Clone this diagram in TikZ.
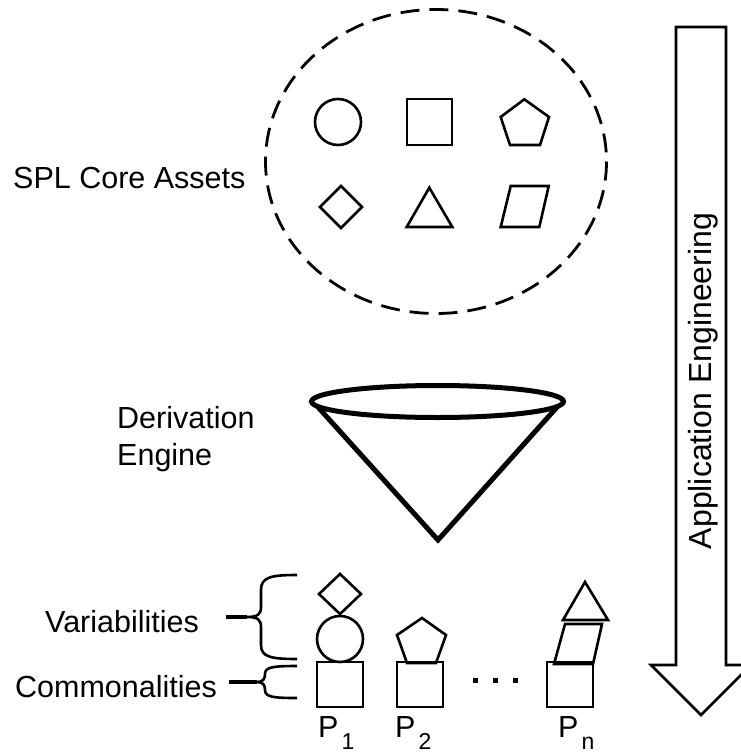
\documentclass[tikz,border=0pt]{standalone}
\usepackage{fontspec}
\setmainfont{Liberation Sans}
\usepackage{tikz}

\newcommand{\prodlabel}[1]{P\hspace{3pt}\raisebox{-12pt}{\fontsize{23}{23}\selectfont #1}}

\begin{document}
\begin{tikzpicture}[x=1pt, y=-1pt,
	lbl/.style={font=\fontsize{30.5}{37}\selectfont, inner sep=0pt},
	shp/.style={line width=2.6pt, line join=miter},
	conn/.style={line width=3.2pt}]
	%\draw[help lines, step=50] (0,0) grid (740,754);
	\useasboundingbox (0,0) rectangle (740,754);
	% core assets
	\draw[line width=2.8pt, dash pattern=on 19pt off 10pt] (436,161.5) ellipse [x radius=170.5, y radius=152];
	\node[lbl, anchor=base west] (spl) at (13,188) {SPL Core Assets};
	\draw[shp] (338,122) circle [radius=23];
	\draw[shp] (407,99) rectangle (452,145);
	\draw[shp] (524.3,99.3) -- (549,117) -- (540,145) -- (510,145) -- (500.7,117) -- cycle;
	\draw[shp] (341,186) -- (362,207) -- (341,228) -- (320,207) -- cycle;
	\draw[shp] (429.3,187.7) -- (452.3,227) -- (406.7,227) -- cycle;
	\draw[shp] (510.7,186) -- (548.7,186) -- (539.3,227) -- (500.7,227) -- cycle;
	% derivation engine
	\node[lbl, anchor=base west, align=left] (deriv) at (117,465) {Derivation\\Engine};
	\draw[line width=5pt] (437.5,401.5) ellipse [x radius=126, y radius=16];
	\draw[line width=5pt, line join=miter] (317,406) -- (438,540) -- (558,406);
	% products
	\draw[shp] (317,662) rectangle (363,707);
	\draw[shp] (340,639) circle [radius=23];
	\draw[shp] (340,574) -- (361,594) -- (340,614) -- (319,594) -- cycle;
	\draw[shp] (397,662) rectangle (443,707);
	\draw[shp] (422,618) -- (446,635) -- (436,663) -- (407,663) -- (397,635) -- cycle;
	\draw[shp] (547,662) rectangle (593,707);
	\draw[shp] (554,664) -- (593,664) -- (602,624) -- (565,624) -- cycle;
	\draw[shp] (585,582) -- (608,620) -- (563,620) -- cycle;
	\foreach \x in {475,495,515}
		\fill (\x-2.5,677.5) rectangle (\x+2.5,682.5);
	\node[lbl, anchor=base west] (p1) at (318,737) {\prodlabel{1}};
	\node[lbl, anchor=base west] (p2) at (395,737) {\prodlabel{2}};
	\node[lbl, anchor=base west] (pn) at (558,737) {\prodlabel{n}};
	% braces
	\node[lbl, anchor=base west] (variab) at (45,632) {Variabilities};
	\node[lbl, anchor=base west] (common) at (15,697) {Commonalities};
	\coordinate (vtip) at (247,617);
	\coordinate (ctip) at (257,682);
	\draw[shp] (297,575) .. controls (271,575) and (261,577) .. (261,590) -- (261,607) .. controls (261,614) and (258,617) .. (vtip) .. controls (258,617) and (261,620) .. (261,627) -- (261,645) .. controls (261,657) and (271,659) .. (297,659);
	\draw[shp] (297,666) .. controls (273,666) and (265,667) .. (265,674) .. controls (265,679) and (263,682) .. (ctip) .. controls (263,682) and (265,685) .. (265,690) .. controls (265,697) and (273,698) .. (297,698);
	\draw[conn, shorten <=27pt] (variab.east |- vtip) -- (vtip);
	\draw[conn, shorten <=12pt] (common.east |- ctip) -- (ctip);
	% application engineering
	\draw[shp] (676,27) -- (726,27) -- (726,665) -- (751,665) -- (701,715) -- (651,665) -- (676,665) -- cycle;
	\node[lbl, font=\fontsize{32}{38}\selectfont, rotate=90, anchor=base] (appeng) at (711,381) {Application Engineering};
\end{tikzpicture}
\end{document}
